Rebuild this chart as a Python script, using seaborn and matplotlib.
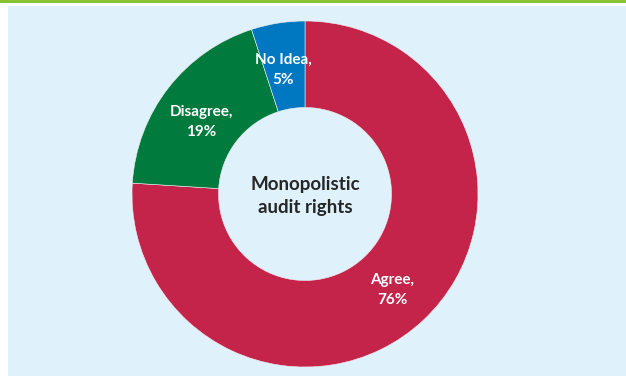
import matplotlib
matplotlib.use("Agg")
import matplotlib.pyplot as plt
from matplotlib.patches import Rectangle
import seaborn as sns
import numpy as np

# answer shares, clockwise from 12 o'clock
answers = ["Agree", "Disagree", "No Idea"]
shares = [76, 19, 5]
colors = ["#C4234A", "#007A3D", "#0078C1"]
center_title = "Monopolistic\naudit rights"

sns.set_style("white")
plt.rcParams["font.family"] = ["Lato", "DejaVu Sans"]

W, H = 626, 376
fig = plt.figure(figsize=(W / 100, H / 100), dpi=100)
fig.patch.set_facecolor("white")

# green band on top, light blue panel
fig.patches.append(Rectangle((0, 1 - 3.3 / H), 1, 3.3 / H, transform=fig.transFigure,
                             facecolor="#86C232", edgecolor="none", zorder=-5))
fig.patches.append(Rectangle((8 / W, 0), 1 - 8 / W, 1 - 6 / H, transform=fig.transFigure,
                             facecolor="#DFF1FB", edgecolor="none", zorder=-5))

ax = fig.add_axes([0, 0, 1, 1])
ax.set_facecolor("none")
ax.set_zorder(2)

wedges, _ = ax.pie(shares, colors=colors, startangle=90, counterclock=False,
                   radius=1.0, wedgeprops=dict(width=0.5, edgecolor="#f0f0f0", linewidth=0.4))

# place labels in each ring segment
label_r = [0.75, 0.73, 0.73]
label_shift = [-1, 3, 1]
for w, name, val, r, sh in zip(wedges, answers, shares, label_r, label_shift):
    ang = np.deg2rad((w.theta1 + w.theta2) / 2 + sh)
    ax.text(r * np.cos(ang), r * np.sin(ang), f"{name},\n{val}%", ha="center", va="center",
            color="white", fontsize=11, fontweight="bold", linespacing=1.55)

ax.text(0, -0.01, center_title, ha="center", va="center", color="#262626",
        fontsize=13.5, fontweight="bold", linespacing=1.45)

scale = 173.0
cx, cy = 305, 194
ax.set_xlim(-cx / scale, (W - cx) / scale)
ax.set_ylim(-(H - cy) / scale, cy / scale)
ax.set_aspect("auto")
ax.axis("off")

fig.savefig("out.png", dpi=100, facecolor=fig.get_facecolor())
